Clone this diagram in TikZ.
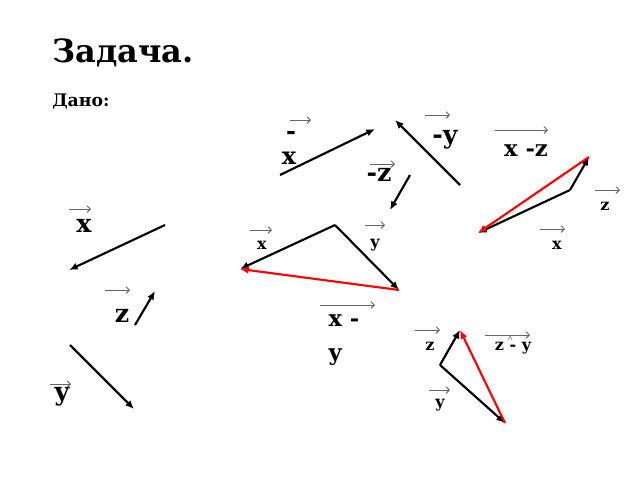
\documentclass[tikz,border=0pt]{standalone}
\usepackage{fontspec}
\setmainfont{DejaVu Serif}
\usetikzlibrary{arrows.meta}

\tikzset{
  vec/.style={line width=1.6pt, -{Latex[length=6.5pt,width=5.5pt]}},
  diff/.style={vec, red},
  over/.style={gray!80!black, line width=0.7pt, -{Straight Barb[length=2.5pt,width=5pt]}},
  big/.style={font=\fontsize{19}{24}\selectfont\bfseries},
  mid/.style={font=\fontsize{17}{25}\selectfont\bfseries},
  small/.style={font=\fontsize{12}{13}\selectfont\bfseries}
}

\begin{document}
\begin{tikzpicture}[x=0.75pt, y=-0.75pt]
        \useasboundingbox (0,0) rectangle (640,480);

        % headings
        \node[anchor=base west, inner sep=0pt, font=\fontsize{24}{24}\selectfont\bfseries] (title) at (52,62) {Задача.};
        \node[anchor=base west, inner sep=0pt, font=\fontsize{13}{13}\selectfont\bfseries] (given) at (52,106) {Дано:};

        % given vectors
        \coordinate (xs) at (165,225);
        \coordinate (xe) at (69,270);
        \coordinate (zs) at (135,325);
        \coordinate (ze) at (155,291);
        \coordinate (ys) at (70,345);
        \coordinate (ye) at (134,409);

        \draw[vec] (xs) -- (xe);
        \draw[vec] (zs) -- (ze);
        \draw[vec] (ys) -- (ye);
        \node[big] (lx) at (84,226) {x};
        \draw[over] (69,209) -- ++(22,0);
        \node[big] (lz) at (122,316) {z};
        \draw[over] (105,290) -- ++(25,0);
        \node[big] (ly) at (62,397) {y};
        \draw[over] (50,384) -- ++(21,0);

        % opposite vectors
        \coordinate (mxs) at (280,175);
        \coordinate (mxe) at (375,129);
        \coordinate (mys) at (460,185);
        \coordinate (mye) at (395,120);
        \coordinate (mzs) at (410,175);
        \coordinate (mze) at (390,210);

        \draw[vec] (mxs) -- (mxe);
        \draw[vec] (mys) -- (mye);
        \draw[vec] (mzs) -- (mze);
        \node[align=right, font=\fontsize{18}{19}\selectfont\bfseries] (lmx) at (289,148) {-\\x};
        \draw[over] (290,120) -- ++(21,0);
        \node[big] (lmy) at (445,140) {-y};
        \draw[over] (425,115) -- ++(25,0);
        \node[big] (lmz) at (379,175) {-z};
        \draw[over] (370,164) -- ++(25,0);

        % x - y
        \coordinate (xyA) at (335,225);
        \coordinate (xyB) at (240,269);
        \coordinate (xyC) at (399,290);

        \draw[vec] (xyA) -- (xyB);
        \draw[vec] (xyA) -- (xyC);
        \draw[diff] (xyC) -- (xyB);
        \node[small] (lxyx) at (262,245) {x};
        \draw[over] (250,230) -- ++(22,0);
        \node[small] (lxyy) at (375,245) {y};
        \draw[over] (365,225) -- ++(20,0);
        \node[mid, align=left] (lxy) at (344,340) {x -\\y};
        \draw[over] (320,305) -- ++(55,0);

        % x - z
        \coordinate (xzA) at (570,190);
        \coordinate (xzB) at (589,157);
        \coordinate (xzC) at (478,233);

        \draw[vec] (xzA) -- (xzC);
        \draw[vec] (xzA) -- (xzB);
        \draw[diff] (xzB) -- (xzC);
        \node[mid] (lxz) at (526,151) {x -z};
        \draw[over] (495,130) -- ++(53,0);
        \node[small] (lxzz) at (605,206) {z};
        \draw[over] (595,190) -- ++(25,0);
        \node[small] (lxzx) at (557,245) {x};
        \draw[over] (540,229) -- ++(25,0);

        % z - y
        \coordinate (zyA) at (440,365);
        \coordinate (zyB) at (460,330);
        \coordinate (zyC) at (505,423);

        \draw[vec] (zyA) -- (zyB);
        \draw[vec] (zyA) -- (zyC);
        \draw[diff] (zyC) -- (zyB);
        \node[small] (lzyz) at (430,346) {z};
        \draw[over] (415,330) -- ++(25,0);
        \node[small] (lzyy) at (440,405) {y};
        \draw[over] (429,390) -- ++(21,0);
        \node[small] (lzy) at (513,348) {z - y};
        \draw[over] (485,335) -- ++(45,0);
        \draw[blue!60, line width=0.4pt] (508,340) -- (510,336) -- (512,340);

    \end{tikzpicture}
\end{document}
